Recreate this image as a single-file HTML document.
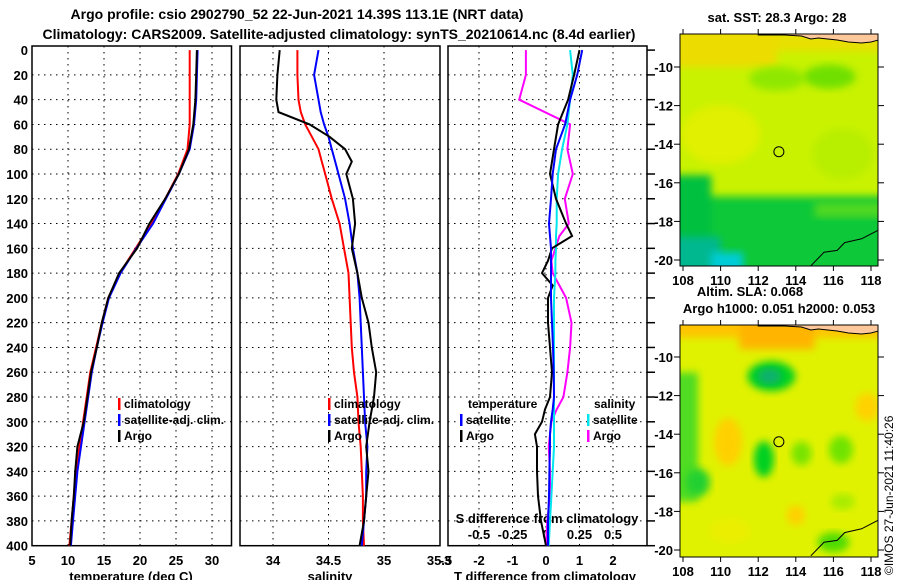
<!DOCTYPE html>
<html><head><meta charset="utf-8">
<style>
html,body{margin:0;padding:0;background:#fff;}
svg{display:block;font-family:"Liberation Sans",sans-serif;font-weight:bold;}
</style></head>
<body>
<svg id="chart" width="900" height="580" viewBox="0 0 900 580" xmlns="http://www.w3.org/2000/svg">
<defs>
<filter id="blur1" x="-20%" y="-20%" width="140%" height="140%" filterUnits="objectBoundingBox"><feGaussianBlur stdDeviation="4"/></filter>
<clipPath id="clipM1"><rect x="680" y="34" width="198" height="232"/></clipPath>
<clipPath id="clipM2"><rect x="680" y="325" width="198" height="232"/></clipPath>
</defs>
<text x="297" y="19" font-size="14" text-anchor="middle">Argo profile: csio 2902790_52 22-Jun-2021 14.39S 113.1E (NRT data)</text>
<text x="339" y="39" font-size="14" text-anchor="middle">Climatology: CARS2009. Satellite-adjusted climatology: synTS_20210614.nc (8.4d earlier)</text>
<g id="plots"></g>
<g id="maps"></g>
<text transform="translate(893,575) rotate(-90)" font-size="12" font-weight="normal">©IMOS 27-Jun-2021 11:40:26</text>
</svg>
<script>
// ---- data ----
const depths = [0,20,40,60,80,100,120,140,160,180,200,220,240,260,280,300,320,340,360,380,400];
const tempClim = [26.9,26.9,26.9,26.9,26.6,25.3,23.5,21.6,19.4,17.2,15.6,14.7,13.9,13.1,12.6,12.1,11.6,11.1,10.8,10.5,10.2];
const tempSat  = [28.0,27.9,27.8,27.5,26.9,25.4,23.6,21.8,19.5,17.3,15.7,14.8,14.0,13.3,12.8,12.3,11.8,11.3,11.0,10.7,10.4];
const tempArgo = [27.9,27.8,27.7,27.4,26.8,25.4,23.5,21.3,19.6,17.1,15.6,14.7,14.0,13.2,12.7,12.2,11.3,11.0,10.8,10.5,10.3];
const salDepths = [0,20,40,50,60,70,80,90,100,110,120,140,160,180,200,220,240,260,280,300,320,340,360,380,400];
const salClim = [34.22,34.22,34.23,34.25,34.29,34.35,34.41,34.44,34.47,34.50,34.53,34.60,34.64,34.68,34.69,34.70,34.71,34.73,34.76,34.77,34.79,34.80,34.81,34.81,34.82];
const salSat  = [34.41,34.37,34.41,34.43,34.46,34.50,34.53,34.56,34.59,34.62,34.65,34.69,34.72,34.76,34.78,34.79,34.80,34.81,34.82,34.83,34.85,34.84,34.84,34.82,34.80];
const salArgo = [34.06,34.04,34.03,34.05,34.33,34.51,34.65,34.71,34.66,34.69,34.72,34.74,34.71,34.76,34.80,34.86,34.89,34.93,34.91,34.87,34.84,34.86,34.84,34.82,34.78];
const diffDepths = [0,20,40,60,80,100,120,140,150,160,170,180,190,200,220,240,260,280,290,300,310,320,340,360,380,400];
const tDiffArgo = [1.0,0.84,0.66,0.36,0.24,0.12,0.3,0.6,0.78,0.18,0.06,-0.12,0.2,0.06,0.06,0.12,0.18,0.12,-0.03,-0.12,-0.33,-0.27,-0.27,-0.24,-0.15,0.0];
const tDiffSat  = [1.08,0.93,0.72,0.57,0.3,0.2,0.15,0.09,0.12,0.15,0.15,0.15,0.15,0.15,0.18,0.21,0.23,0.24,0.2,0.15,0.12,0.12,0.1,0.09,0.06,0.06];
const sDiffSat  = [0.18,0.2,0.18,0.16,0.12,0.09,0.08,0.08,0.075,0.075,0.07,0.07,0.065,0.06,0.06,0.06,0.06,0.06,0.06,0.06,0.06,0.06,0.05,0.04,0.03,0.02];
const sDiffArgo = [-0.15,-0.15,-0.2,0.18,0.16,0.2,0.14,0.17,0.1,0.07,0.04,0.05,0.1,0.15,0.19,0.18,0.16,0.13,0.08,0.04,0.03,0.02,0.03,0.03,0.01,0.0];
const tempTicks = [5,10,15,20,25,30];
const salTicks = [34,34.5,35,35.5];
const tdTicks = [-3,-2,-1,0,1,2];
const sdTicks = [-0.5,-0.25,0,0.25,0.5];
const depthTicks = [0,20,40,60,80,100,120,140,160,180,200,220,240,260,280,300,320,340,360,380,400];
const lonTicks = [108,110,112,114,116,118];
const latTicks = [-10,-12,-14,-16,-18,-20];

const NS='http://www.w3.org/2000/svg';
function mk(tag, attrs, parent){const e=document.createElementNS(NS,tag);for(const k in attrs)e.setAttribute(k,attrs[k]);parent.appendChild(e);return e;}
const plots=document.getElementById('plots');
const Y=d=>50.1+d*1.239;
const TOP=46, BOT=545.7;
const xT=t=>32+(t-5)*7.2;
const xS=s=>273+(s-34)*111;
const xTD=v=>546+v*33.5;
const xSD=v=>546+v*134;

function frame(x0,x1,name){
  const r=mk('rect',{x:x0,y:TOP,width:x1-x0,height:BOT-TOP,fill:'none',stroke:'#000','stroke-width':1.5},plots);
  
  
  depthTicks.forEach(d=>{
    if(d===0||d===400)return;
    const g=mk('line',{x1:x0,x2:x1,y1:Y(d),y2:Y(d),stroke:'#000','stroke-width':1,'stroke-dasharray':'1.5,4.5'},plots);
    
    
  });
}
function vgrid(xs,x0,x1){
  xs.forEach(x=>{
    if(x<=x0+1||x>=x1-1)return;
    const g=mk('line',{x1:x,x2:x,y1:TOP,y2:BOT,stroke:'#000','stroke-width':1,'stroke-dasharray':'1.5,4.5'},plots);
    
    
  });
}
function line(xs,ds,xf,color,name){
  const pts=xs.map((v,i)=>xf(v).toFixed(1)+','+Y(ds[i]).toFixed(1)).join(' ');
  const p=mk('polyline',{points:pts,fill:'none',stroke:color,'stroke-width':2},plots);
  
  
}
function txt(x,y,s,size,anchor,name,weight){
  const t=mk('text',{x:x,y:y,'font-size':size,'text-anchor':anchor||'start'},plots);
  if(weight)t.setAttribute('font-weight',weight);
  t.textContent=s;
  
  
  return t;
}
function legend(x,y,color,label){
  const b=mk('rect',{x:x,y:y-10,width:2.5,height:12,fill:color},plots);
  
  
  txt(x+6,y,label,12,'start','legend-entry');
}

// panel 1 temperature
frame(32,231.5,'temperature-panel');
vgrid(tempTicks.map(xT),32,231.5);
depthTicks.forEach(d=>txt(28,Y(d)+5,String(d),13,'end','depth-tick-label'));
tempTicks.forEach(t=>txt(xT(t),565,String(t),13,'middle','temperature-tick-label'));
txt(131,581,'temperature (deg C)',13,'middle','temperature-axis-title');
line(tempClim,depths,xT,'#ff0000','temperature-climatology-line');
line(tempSat,depths,xT,'#0000ff','temperature-satellite-line');
line(tempArgo,depths,xT,'#000000','temperature-argo-line');
legend(118,408,'#ff0000','climatology');
legend(118,424,'#0000ff','satellite-adj. clim.');
legend(118,440,'#000000','Argo');

// panel 2 salinity
frame(240,440,'salinity-panel');
vgrid(salTicks.map(xS),240,440);
salTicks.forEach(s=>txt(xS(s),565,String(s),13,'middle','salinity-tick-label'));
txt(330,581,'salinity',13,'middle','salinity-axis-title');
line(salClim,salDepths,xS,'#ff0000','salinity-climatology-line');
line(salSat,salDepths,xS,'#0000ff','salinity-satellite-line');
line(salArgo,salDepths,xS,'#000000','salinity-argo-line');
legend(328,408,'#ff0000','climatology');
legend(328,424,'#0000ff','satellite-adj. clim.');
legend(328,440,'#000000','Argo');

// panel 3 differences
frame(448,647,'difference-panel');
vgrid(tdTicks.map(xTD),448,647);
depthTicks.forEach(d=>{
  const t=mk('line',{x1:647,x2:655,y1:Y(d),y2:Y(d),stroke:'#000','stroke-width':1.5},plots);
  
  
});
tdTicks.forEach(v=>txt(xTD(v),565,String(v),13,'middle','t-diff-tick-label'));
txt(545,581,'T difference from climatology',13,'middle','t-diff-axis-title');
sdTicks.forEach(v=>txt(xSD(v),539,String(v),13,'middle','s-diff-tick-label'));
txt(547,523,'S difference from climatology',13,'middle','s-diff-axis-title');
line(sDiffArgo,diffDepths,xSD,'#ff00ff','s-diff-argo-line');
line(sDiffSat,diffDepths,xSD,'#00e5ee','s-diff-satellite-line');
line(tDiffArgo,diffDepths,xTD,'#000000','t-diff-argo-line');
line(tDiffSat,diffDepths,xTD,'#0000ff','t-diff-satellite-line');
txt(468,408,'temperature',12,'start','legend-temperature-header');
legend(460,424,'#0000ff','satellite');
legend(460,440,'#000000','Argo');
txt(594,408,'salinity',12,'start','legend-salinity-header');
legend(587,424,'#00e5ee','satellite');
legend(587,440,'#ff00ff','Argo');

// ---- maps ----
const maps=document.getElementById('maps');
const lonX=l=>683+(l-108)*18.8;
function map(top,latM10,latM20,clip,rects,blobs,bg,title,name){
  const latY=l=>latM10+(-10-l)*(latM20-latM10)/10;
  const g=mk('g',{'clip-path':'url(#'+clip+')'},maps);
  
  
  mk('rect',{x:670,y:top-10,width:220,height:252,fill:bg},g);
  rects.forEach(r=>{
    const x0=lonX(r[0]),x1=lonX(r[1]),y0=latY(r[2]),y1=latY(r[3]);
    mk('rect',{x:x0,y:y0,width:x1-x0,height:y1-y0,fill:r[4],filter:'url(#blur1)'},g);
  });
  blobs.forEach(b=>mk('ellipse',{cx:lonX(b[0]),cy:latY(b[1]),rx:b[2],ry:b[3],fill:b[4],filter:'url(#blur1)'},g));
  // land at top
  mk('path',{d:`M${lonX(114.5)},${top} L${lonX(118.6)},${top} L${lonX(118.6)},${top+5} L${lonX(118)},${top+8} L${lonX(117.5)},${top+9} L${lonX(116.8)},${top+8} L${lonX(116.2)},${top+6} L${lonX(115.7)},${top+5} L${lonX(115.2)},${top+4} L${lonX(114.8)},${top+5} L${lonX(114.3)},${top+2} L${lonX(113.4)},${top+1} L${lonX(112)},${top+1} L${lonX(112)},${top} Z`,fill:'#ffc89a',stroke:'#000','stroke-width':1},g);
  // coast bottom right
  mk('polyline',{points:`${lonX(114.8)},${latY(-20.3)} ${lonX(115.5)},${latY(-19.6)} ${lonX(116.2)},${latY(-19.5)} ${lonX(116.6)},${latY(-19.1)} ${lonX(117.5)},${latY(-18.9)} ${lonX(118.5)},${latY(-18.4)}`,fill:'none',stroke:'#000','stroke-width':1},g);
  // argo position
  const c=mk('circle',{cx:lonX(113.1),cy:latY(-14.39),r:5,fill:'none',stroke:'#000','stroke-width':1},maps);
  
  
  const f=mk('rect',{x:680,y:top,width:198,height:232,fill:'none',stroke:'#000','stroke-width':1},maps);
  
  
  latTicks.forEach(l=>{
    mk('line',{x1:674,x2:680,y1:latY(l),y2:latY(l),stroke:'#000','stroke-width':1},maps);
    mk('line',{x1:878,x2:884,y1:latY(l),y2:latY(l),stroke:'#000','stroke-width':1},maps);
    const t=mk('text',{x:673,y:latY(l)+5,'font-size':13,'text-anchor':'end'},maps);
    t.textContent=String(l);
    
    
  });
  lonTicks.forEach(l=>{
    mk('line',{x1:lonX(l),x2:lonX(l),y1:top-5,y2:top,stroke:'#000','stroke-width':1},maps);
    mk('line',{x1:lonX(l),x2:lonX(l),y1:top+232,y2:top+237,stroke:'#000','stroke-width':1},maps);
    const t=mk('text',{x:lonX(l),y:top+251,'font-size':13,'text-anchor':'middle'},maps);
    t.textContent=String(l);
    
    
  });
  title.forEach(tt=>{
    const t=mk('text',{x:tt[0],y:tt[1],'font-size':13,'text-anchor':'middle'},maps);
    t.textContent=tt[2];
    
    
  });
}
map(34,67,260,'clipM1',[
  [107,119,-7,-9.2,'#e8e000'],[107,113,-7,-10,'#ecdc00'],
  [107,119,-16.7,-21,'#10c838'],[107,109.5,-15.6,-21,'#00c040'],
  [107,110,-18.8,-21,'#00b890'],[109.5,111.2,-19.6,-21,'#00ccd8'],
  [115,119,-17,-17.8,'#50d820']
],[
  [113,-10.6,28,12,'#90e800'],[115.8,-10.5,26,12,'#70e000'],
  [110,-13.5,40,30,'#e0f000'],[116.5,-14.5,30,25,'#b8ee00']
],'#c8f200',[[777,22,'sat. SST: 28.3 Argo: 28','sst-map-title']],'sst-map');
map(325,357,550,'clipM2',[
  [107,119,-7,-9.0,'#ffc400'],[111,115,-7,-9.6,'#ffb400'],
  [107,108.8,-10.8,-17.5,'#50dc20']
],[
  [112.7,-11,24,15,'#00d020'],[112.6,-11,12,8,'#10b070'],
  [110.4,-14.4,14,24,'#ffd000'],[108.8,-16.5,12,14,'#20d030'],
  [112.3,-15.3,10,18,'#00d020'],[114.3,-15,10,12,'#78e400'],[116.4,-14.8,12,14,'#70e400'],
  [117.8,-12.6,12,14,'#ffd200'],[114,-18.2,9,10,'#ffd000'],[116,-19.6,16,10,'#50dc00'],[116.5,-17.5,12,8,'#a8ec00'],[110.5,-19,20,12,'#ecee00']
],'#e0f200',[[750,296,'Altim. SLA: 0.068','sla-map-title'],[779,313,'Argo h1000: 0.051 h2000: 0.053','argo-height-title']],'sla-map');
</script>
</body></html>
